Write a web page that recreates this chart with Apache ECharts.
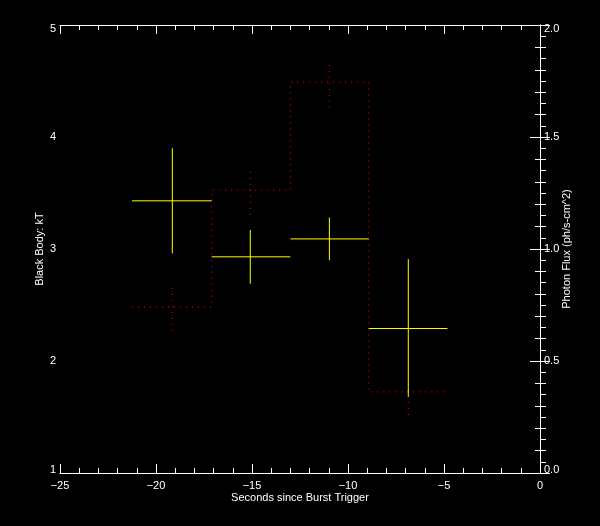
<!DOCTYPE html>
<html>
<head>
<meta charset="utf-8">
<script src="https://cdn.jsdelivr.net/npm/echarts@6/dist/echarts.min.js"></script>
<style>
html,body{margin:0;padding:0;background:#000;}
#chart{width:600px;height:526px;}
</style>
</head>
<body>
<div id="chart"></div>
<script>
// Time bins (seconds since burst trigger)
var binLo = [-21.25, -17.1, -13.0, -8.92];
var binHi = [-17.1, -13.0, -8.92, -4.82];
// Black body kT (left axis)
var kTTime = [-19.15, -15.09, -10.97, -6.86];
var kT = [3.43, 2.93, 3.09, 2.29];
var kTHi = [3.90, 3.17, 3.28, 2.91];
var kTLo = [2.96, 2.69, 2.90, 1.68];
// Photon flux (right axis)
var fluxTime = [-19.15, -15.09, -10.97, -6.86];
var flux = [0.741, 1.263, 1.745, 0.362];
var fluxHi = [0.848, 1.367, 1.845, 0.46];
var fluxLo = [0.634, 1.152, 1.63, 0.259];

var FONT = 'Liberation Sans';
var kTData = kT.map(function (v, i) { return [kTTime[i], v, kTLo[i], kTHi[i], binLo[i], binHi[i]]; });
var stepData = [];
flux.forEach(function (v, i) { stepData.push([binLo[i], v]); stepData.push([binHi[i], v]); });
var fluxErrData = flux.map(function (v, i) { return [fluxTime[i], v, fluxLo[i], fluxHi[i]]; });

function minus(v) { return String(v).replace('-', '\u2212'); }
function edgeLabel(min, max, fmt) {
  return function (v) {
    var s = fmt ? fmt(v) : String(v);
    if (v === max) return '{top|' + s + '}';
    if (v === min) return '{bot|' + s + '}';
    return s;
  };
}
var edgeRich = {
  top: {color: '#fff', fontFamily: 'Liberation Sans', fontSize: 11, padding: [8, 0, 0, 0]},
  bot: {color: '#fff', fontFamily: 'Liberation Sans', fontSize: 11, padding: [0, 0, 6, 0]}
};

var chart = echarts.init(document.getElementById('chart'), null, {renderer: 'canvas'});
var axisCommon = {
  axisLine: {show: true, lineStyle: {color: '#fff', width: 1}},
  splitLine: {show: false},
  nameMoveOverlap: false,
  nameTextStyle: {color: '#fff', fontFamily: FONT, fontSize: 11}
};
chart.setOption({
  backgroundColor: '#000',
  animation: false,
  grid: {left: 60, right: 60, top: 25, bottom: 53},
  xAxis: [
    Object.assign({}, axisCommon, {
      type: 'value', position: 'bottom', min: -25, max: 0, interval: 5,
      name: 'Seconds since Burst Trigger', nameLocation: 'middle', nameGap: 19,
      axisTick: {show: true, inside: true, length: 9, lineStyle: {color: '#fff'}},
      minorTick: {show: true, splitNumber: 5, length: 5, lineStyle: {color: '#fff'}},
      axisLabel: {color: '#fff', fontFamily: FONT, fontSize: 11, margin: 7, formatter: minus}
    }),
    Object.assign({}, axisCommon, {
      type: 'value', position: 'top', min: -25, max: 0, interval: 5,
      axisTick: {show: true, inside: true, length: 9, lineStyle: {color: '#fff'}},
      minorTick: {show: true, splitNumber: 5, length: 5, lineStyle: {color: '#fff'}},
      axisLabel: {show: false}
    })
  ],
  yAxis: [
    Object.assign({}, axisCommon, {
      type: 'value', position: 'left', min: 1, max: 5, interval: 1,
      name: 'Black Body: kT', nameLocation: 'middle', nameGap: 15, nameRotate: 90,
      axisTick: {show: true, inside: true, length: 10, lineStyle: {color: '#fff'}},
      minorTick: {show: true, splitNumber: 10, length: 6, lineStyle: {color: '#fff'}},
      axisLabel: {color: '#fff', fontFamily: FONT, fontSize: 11, margin: 4,
        formatter: edgeLabel(1, 5), rich: edgeRich}
    }),
    Object.assign({}, axisCommon, {
      type: 'value', position: 'right', min: 0, max: 2, interval: 0.5,
      name: 'Photon Flux (ph/s-cm^2)', nameLocation: 'middle', nameGap: 21, nameRotate: 90,
      axisTick: {show: true, inside: true, length: 10, lineStyle: {color: '#fff'}},
      minorTick: {show: true, splitNumber: 5, length: 5, lineStyle: {color: '#fff'}},
      axisLabel: {color: '#fff', fontFamily: FONT, fontSize: 11, margin: 4,
        formatter: edgeLabel(0, 2, function (v) { return v.toFixed(1); }), rich: edgeRich}
    })
  ],
  series: [
    {
      type: 'line', xAxisIndex: 0, yAxisIndex: 1, data: stepData,
      showSymbol: false, symbol: 'none',
      lineStyle: {color: '#ff0000', width: 1, type: [1, 5]}, z: 2
    },
    {
      type: 'custom', xAxisIndex: 0, yAxisIndex: 1, data: fluxErrData, z: 2,
      renderItem: function (params, api) {
        var a = api.coord([api.value(0), api.value(2)]);
        var b = api.coord([api.value(0), api.value(3)]);
        return {type: 'line', shape: {x1: a[0], y1: a[1], x2: b[0], y2: b[1]},
          style: {stroke: '#ff0000', lineWidth: 1, lineDash: [1, 5]}};
      }
    },
    {
      type: 'custom', xAxisIndex: 0, yAxisIndex: 0, data: kTData, z: 5,
      renderItem: function (params, api) {
        var h1 = api.coord([api.value(4), api.value(1)]);
        var h2 = api.coord([api.value(5), api.value(1)]);
        var v1 = api.coord([api.value(0), api.value(2)]);
        var v2 = api.coord([api.value(0), api.value(3)]);
        var st = {stroke: '#ffff00', lineWidth: 1};
        return {type: 'group', children: [
          {type: 'line', shape: {x1: h1[0], y1: h1[1], x2: h2[0], y2: h2[1]}, style: st},
          {type: 'line', shape: {x1: v1[0], y1: v1[1], x2: v2[0], y2: v2[1]}, style: st}
        ]};
      }
    }
  ]
});
</script>
</body>
</html>
